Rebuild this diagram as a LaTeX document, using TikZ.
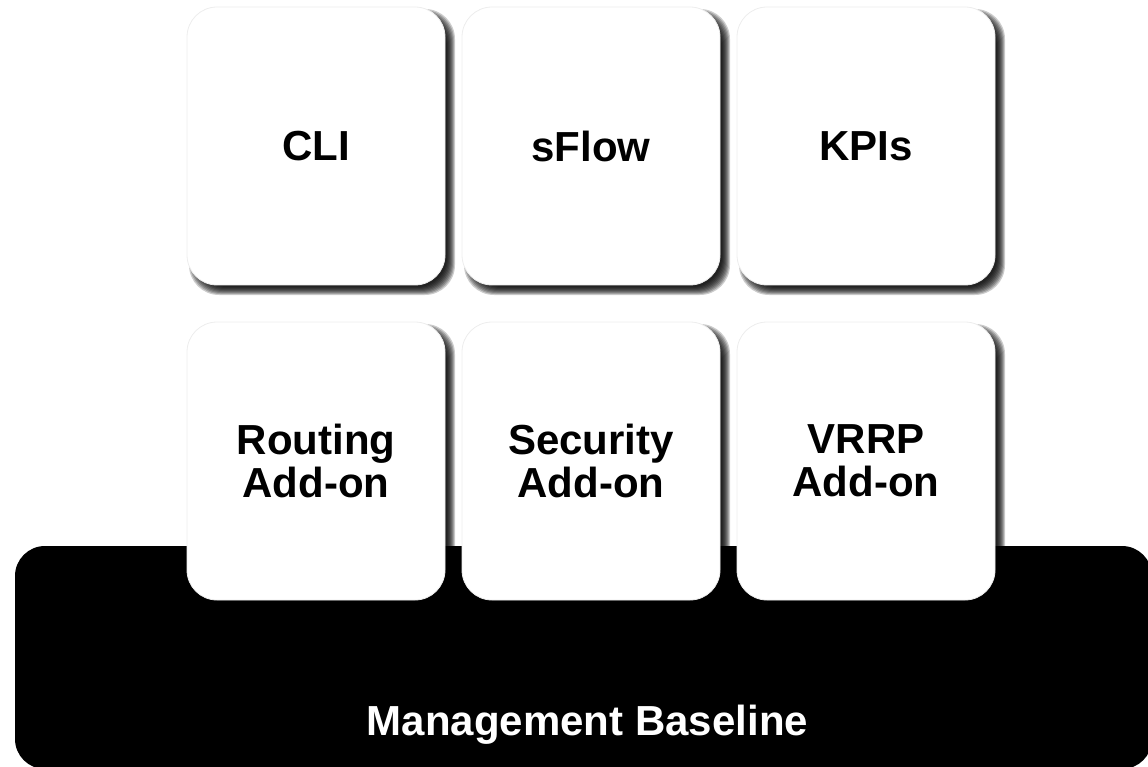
\documentclass[tikz,border=0pt]{standalone}
\usepackage{fontspec}
\setmainfont{Liberation Sans}
\begin{document}
\begin{tikzpicture}[x=1pt,y=-1pt,
  tile/.style={fill=white, draw=black!7, line width=0.8pt, minimum width=258pt, minimum height=278pt,
    rounded corners=30pt, inner sep=0pt, align=center,
    font=\fontsize{42}{43}\selectfont\bfseries},
  basebox/.style={fill=black, minimum width=1137pt, minimum height=223pt, rounded corners=30pt, inner sep=0pt},
  shadowlayer/.style={fill=black, fill opacity=0.2, rounded corners=30pt},
  basetext/.style={text=white, font=\fontsize{42}{43}\selectfont\bfseries}
]
\useasboundingbox (0,0) rectangle (1148,767);
\node[basebox] (base) at (583.5,657.5) {};
\node[basetext] (mb) at (587.5,724.5) {Management Baseline};
% shadows
\foreach \cx/\cy in {316/146, 591/146, 866/146, 316/461, 591/461, 866/461}{
  \foreach \e in {4,3,2,1,0,-1,-2,-3,-4}{
    \fill[shadowlayer] (\cx-129+6-\e,\cy-139+6-\e) rectangle (\cx+129+6+\e,\cy+139+6+\e);
  }
}
\node[tile] (cli) at (316,146) {\raisebox{-3pt}{CLI}};
\node[tile] (sflow) at (591,146) {\raisebox{-3pt}{sFlow}};
\node[tile] (kpis) at (866,146) {\raisebox{-3pt}{KPIs}};
\node[tile] (routing) at (316,461) {Routing\\Add-on};
\node[tile] (security) at (591,461) {Security\\Add-on};
\node[tile] (vrrp) at (866,461) {VRRP\\Add-on};
\end{tikzpicture}
\end{document}
